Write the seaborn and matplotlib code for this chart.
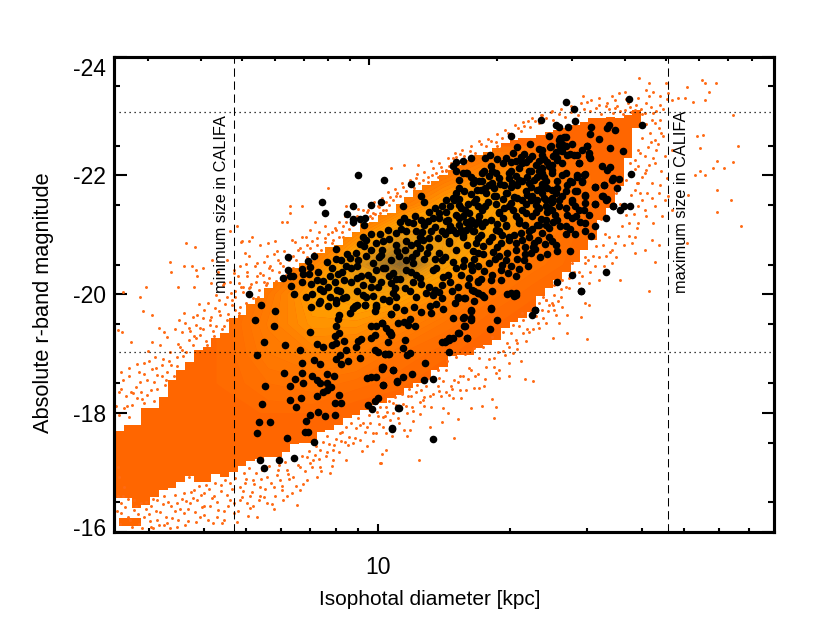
import numpy as np
import pandas as pd
import matplotlib
matplotlib.use('Agg')
import matplotlib.pyplot as plt
import matplotlib.transforms as mtrans
from matplotlib.colors import LinearSegmentedColormap
from matplotlib.ticker import NullFormatter
import seaborn as sns

# Values: log10(diameter / kpc) and r-band magnitude

# Outline of the binned density image, one entry per 0.02 dex column from log D = 0.40
image_top = [-17.70, -17.80, -17.80, -18.09, -18.09, -18.27, -18.56, -18.73, -18.86, -19.06,
             -19.11, -19.27, -19.35, -19.60, -19.65, -19.84, -19.94, -20.11, -20.21, -20.31,
             -20.44, -20.53, -20.58, -20.70, -20.80, -20.83, -20.97, -21.05, -21.20, -21.22,
             -21.34, -21.37, -21.51, -21.64, -21.76, -21.84, -21.91, -22.01, -22.09, -22.18,
             -22.26, -22.35, -22.40, -22.46, -22.55, -22.60, -22.63, -22.63, -22.68, -22.73,
             -22.77, -22.80, -22.85, -22.90, -22.97, -22.97, -22.99, -22.97, -23.02, -23.10]
image_bottom = [-16.57, -16.57, -16.40, -16.45, -16.59, -16.71, -16.74, -16.84, -16.94, -16.84,
                -16.84, -16.98, -16.93, -17.01, -17.11, -17.20, -17.23, -17.26, -17.26, -17.35,
                -17.48, -17.50, -17.50, -17.68, -17.72, -17.80, -17.92, -17.97, -18.05, -18.14,
                -18.17, -18.26, -18.31, -18.42, -18.51, -18.59, -18.73, -18.78, -18.96, -18.98,
                -18.98, -19.10, -19.15, -19.23, -19.43, -19.54, -19.60, -19.70, -19.97, -20.11,
                -20.24, -20.38, -20.55, -20.75, -20.92, -21.25, -21.45, -21.82, -22.30, -22.80]

# Coarse density of the image (0 = plain orange, 1 = brown peak)
density_log = [0.55, 0.65, 0.75, 0.85, 0.95, 1.05, 1.15, 1.25, 1.35, 1.45, 1.55]
density_mag = [-18.0, -18.5, -19.0, -19.5, -20.0, -20.5, -21.0, -21.5, -22.0, -22.5]
density = [[0, 0, .05, .05, 0, 0, 0, 0, 0, 0, 0],
           [0, .05, .12, .15, .1, .05, 0, 0, 0, 0, 0],
           [0, .05, .2, .28, .25, .12, .05, 0, 0, 0, 0],
           [0, .05, .25, .42, .42, .3, .15, .05, 0, 0, 0],
           [0, .02, .2, .5, .6, .55, .35, .15, .05, 0, 0],
           [0, 0, .05, .3, .7, 1.0, .6, .35, .15, .05, 0],
           [0, 0, 0, .05, .35, .7, .65, .5, .25, .08, 0],
           [0, 0, 0, 0, .05, .25, .5, .55, .4, .12, 0],
           [0, 0, 0, 0, 0, .05, .2, .4, .35, .12, 0],
           [0, 0, 0, 0, 0, 0, .05, .1, .12, .05, 0]]

# Small orange dots: the galaxies outside the image
dots_right_log = [1.596, 1.617, 1.611, 1.628, 1.643, 1.656, 1.738, 1.746, 1.770, 1.755, 1.704, 1.700, 1.719, 1.746, 1.810,
                  1.727, 1.742, 1.734, 1.821, 1.774, 1.810, 1.790, 1.765, 1.723, 1.734, 1.746, 1.772, 1.806, 1.772, 1.827,
                  1.708, 1.704, 1.617, 1.640, 1.624, 1.632, 1.609, 1.587, 1.579, 1.553, 1.534, 1.515, 1.503, 1.473, 1.443,
                  1.594, 1.609, 1.632, 1.613, 1.594, 1.624, 1.587, 1.594, 1.609, 1.632, 1.602, 1.632, 1.640, 1.624, 1.643,
                  1.670, 1.685, 1.662, 1.670, 1.655, 1.643, 1.655, 1.670, 1.647, 1.628, 1.541, 1.526, 1.534, 1.519, 1.496,
                  1.466, 1.481, 1.420, 1.428, 1.382, 1.397, 1.420, 1.371, 1.503, 1.534, 1.549, 1.564, 1.477, 1.468, 1.397,
                  1.375, 1.341, 1.325, 1.280, 1.272, 1.231, 1.170, 1.155, 1.148, 1.163, 1.519, 1.541, 1.564, 1.587, 1.609,
                  1.632, 1.594, 1.609, 1.575, 1.587, 1.602, 1.572, 1.556, 1.594, 1.587]
dots_right_mag = [-23.64, -23.55, -23.44, -23.41, -23.33, -23.55, -23.61, -23.55, -23.56, -23.41, -23.49, -23.30, -23.24, -23.27, -23.02,
                  -22.67, -22.68, -22.46, -22.50, -22.25, -22.22, -22.12, -22.12, -22.01, -22.08, -22.01, -21.76, -21.58, -21.38, -21.15,
                  -21.67, -20.86, -20.06, -20.83, -20.92, -20.55, -20.75, -20.69, -20.86, -20.24, -20.52, -20.47, -20.24, -20.52, -20.52,
                  -21.48, -21.42, -21.48, -21.70, -21.87, -21.87, -22.26, -22.15, -22.04, -22.21, -22.63, -22.60, -22.80, -22.94, -22.94,
                  -23.27, -23.30, -23.38, -22.43, -22.32, -21.84, -21.59, -21.42, -21.31, -21.20, -20.86, -20.97, -20.75, -20.64, -20.47,
                  -20.30, -20.19, -20.24, -20.13, -19.91, -19.85, -19.79, -20.07, -23.19, -23.33, -23.38, -23.41, -23.24, -23.33, -23.08,
                  -23.02, -22.91, -22.74, -22.46, -22.49, -22.32, -22.29, -22.07, -21.95, -22.15, -23.16, -23.13, -23.10, -23.10, -23.05,
                  -22.88, -22.43, -22.32, -22.21, -21.76, -21.59, -21.20, -21.14, -21.20, -20.97]

dots_lower_log = [1.401, 1.417, 1.383, 1.367, 1.398, 1.375, 1.360, 1.405, 1.383, 1.413, 1.432, 1.473, 1.482, 1.464, 1.432,
                  1.477, 1.398, 1.367, 1.330, 1.322, 1.303, 1.330, 1.314, 1.295, 1.345, 1.284, 1.307, 1.265, 1.299, 1.326,
                  1.231, 1.246, 1.265, 1.277, 1.212, 1.193, 1.174, 1.155, 1.140, 1.167, 1.186, 1.220, 1.231, 1.241, 1.277,
                  1.298, 1.336, 1.354, 1.201, 1.155, 1.136, 1.110, 1.099, 1.087, 1.076, 1.102, 1.118, 1.144, 1.171, 1.190,
                  1.261, 1.270, 1.237, 1.213, 1.148, 1.159, 1.183, 1.146, 1.264, 1.118, 1.174, 1.065, 1.080, 1.065, 1.042,
                  1.019, 1.027, 1.046, 1.012, 1.019, 1.059, 1.072, 1.010, 1.006, 1.093]
dots_lower_mag = [-19.99, -19.96, -19.91, -19.85, -19.82, -19.74, -19.63, -19.65, -19.51, -19.51, -19.65, -19.85, -19.82, -19.61, -19.34,
                  -19.25, -19.26, -19.43, -19.57, -19.46, -19.34, -19.34, -19.23, -19.18, -19.37, -19.04, -19.01, -18.92, -18.84, -18.88,
                  -18.92, -18.78, -18.78, -18.73, -18.73, -18.62, -18.56, -18.73, -18.59, -18.45, -18.39, -18.42, -18.42, -18.45, -18.59,
                  -18.63, -18.57, -18.54, -18.39, -18.36, -18.45, -18.45, -18.39, -18.36, -18.28, -18.22, -18.28, -18.28, -18.25, -18.26,
                  -18.24, -18.11, -18.12, -18.08, -18.08, -18.01, -17.90, -17.85, -17.91, -17.76, -17.58, -17.61, -17.86, -18.00, -18.14,
                  -18.11, -17.89, -17.91, -17.77, -17.66, -17.72, -17.72, -17.31, -17.16, -17.21]

dots_faint_log = [.406, .410, .421, .406, .413, .429, .444, .466, .482, .497, .512, .527, .542, .557, .569,
                  .580, .588, .603, .618, .633, .648, .671, .686, .694, .705, .716, .731, .746, .762, .777,
                  .792, .807, .822, .837, .852, .868, .883, .898, .913, .928, .943, .958, .974, .989, 1.011,
                  1.034, 1.019, 1.005, .928, .890, .860, .815, .784, .747, .731, .701, .686, .663, .595, .557,
                  .519, .497, .542, .644, .625, .709, .765, .822, .716, .603, .572, .482, .459, .444, .413,
                  .898, .837, .868, .792, .924, .974, .958, 1.004, 1.034, .996]
dots_faint_mag = [-17.10, -16.93, -16.76, -16.60, -16.32, -16.26, -16.37, -16.26, -16.43, -16.54, -16.60, -16.43, -16.48, -16.65, -16.93,
                  -16.71, -16.54, -16.65, -16.43, -16.26, -16.20, -16.32, -16.76, -16.99, -17.07, -16.88, -16.76, -16.93, -16.76, -16.88,
                  -17.04, -16.93, -17.10, -17.27, -17.21, -17.38, -17.61, -17.38, -17.66, -17.77, -17.49, -17.55, -17.44, -17.66, -17.94,
                  -18.00, -17.38, -17.16, -17.21, -16.99, -16.93, -16.46, -16.54, -16.48, -16.60, -16.48, -16.54, -16.54, -16.26, -16.32,
                  -16.15, -16.20, -16.09, -16.15, -16.60, -16.60, -16.60, -16.71, -16.43, -16.43, -16.48, -16.09, -16.48, -16.54, -16.48,
                  -17.21, -16.88, -17.10, -16.60, -17.52, -17.77, -17.80, -18.11, -18.17, -17.66]

dots_upper_log = [.406, .417, .436, .463, .485, .485, .500, .512, .546, .557, .588, .603, .618, .629, .640,
                  .648, .656, .466, .478, .493, .508, .519, .527, .542, .553, .569, .580, .595, .610, .625,
                  .413, .432, .455, .474, .497, .482, .451, .436, .421, .440, .410, .432, .459, .466, .489,
                  .516, .418, .471, .458, .562, .583, .525, .558, .528, .543, .575, .584, .600, .588, .622,
                  .634, .656, .662, .678, .687, .706, .696, .671, .702, .649, .619, .581, .687, .664, .689,
                  .712, .731, .750, .765, .769, .799, .826, .886, .799, .780, .792, .856, .845, .826, .803,
                  .746, .724, .705, .686, .671, .701, .724, .754, .777, .807, .818, .837, .860, .879, .905,
                  .920, .928, .966, .989, 1.000, 1.030, 1.060, 1.091, 1.121, 1.087, 1.113, 1.132, 1.147, 1.057, 1.042,
                  1.026, 1.019, 1.004, .981, .920, .898, .682, .674, .708, .739, .746, .727, .686, .667]
dots_upper_mag = [-19.40, -19.37, -19.20, -19.71, -19.65, -19.20, -19.43, -19.37, -19.57, -19.68, -19.65, -19.74, -19.48, -19.77, -19.65,
                  -19.46, -19.57, -18.84, -18.87, -18.76, -18.81, -18.70, -18.81, -18.95, -19.06, -19.23, -19.29, -19.32, -19.15, -19.29,
                  -18.70, -18.76, -18.70, -18.56, -18.64, -18.39, -18.25, -18.36, -18.08, -18.14, -17.97, -17.94, -18.36, -18.17, -18.20,
                  -18.56, -20.04, -20.13, -19.96, -20.86, -20.79, -20.55, -20.48, -20.37, -20.13, -20.48, -20.41, -20.44, -20.30, -20.58,
                  -20.38, -20.58, -21.06, -21.14, -20.88, -20.89, -20.69, -20.41, -20.38, -20.19, -20.19, -20.13, -20.13, -20.02, -20.89,
                  -20.97, -20.83, -20.86, -20.89, -20.72, -21.48, -21.48, -21.79, -21.37, -21.22, -21.22, -21.22, -21.08, -20.97, -20.92,
                  -20.64, -20.52, -20.64, -20.47, -20.36, -20.30, -20.30, -20.47, -20.52, -20.64, -20.75, -20.83, -20.94, -20.94, -21.08,
                  -21.14, -21.48, -21.42, -21.37, -21.48, -22.12, -22.18, -22.17, -22.25, -21.95, -21.98, -22.04, -22.07, -21.81, -21.65,
                  -21.50, -21.42, -21.37, -21.31, -20.97, -20.92, -20.19, -19.96, -20.13, -20.21, -20.19, -19.96, -19.79, -19.82]

# Dense fringe hugging the upper and lower edges of the image
fringe_top_log = [.413, .428, .447, .462, .474, .489, .497, .507, .515, .523, .534, .541, .548, .556, .563,
                  .571, .578, .586, .593, .601, .608, .616, .623, .631, .638, .645, .652, .659, .668, .675,
                  .683, .691, .698, .706, .714, .722, .729, .737, .744, .752, .759, .768, .775, .783, .791,
                  .798, .806, .814, .822, .829, .838, .846, .853, .862, .871, .878, .887, .894, .902, .911,
                  .919, .927, .935, .944, .952, .961, .969, .977, .986, .994, 1.003, 1.011, 1.018, 1.027, 1.034,
                  1.044, 1.051, 1.063, 1.071, 1.082, 1.094, 1.102, 1.115, 1.123, 1.136, 1.143, 1.154, 1.166, 1.178, 1.188,
                  1.197, 1.209, 1.222, 1.236, 1.247, 1.258, 1.269, 1.283, 1.296, 1.308, 1.319, 1.334, 1.347, 1.359, 1.368,
                  1.383, 1.398, 1.412, 1.427, 1.441, 1.456, 1.469, 1.484, 1.497, 1.508, 1.523, 1.535, 1.546, 1.558, 1.569,
                  1.578, 1.588, 1.599, 1.612, 1.622, 1.635, 1.644]
fringe_top_mag = [-18.41, -18.12, -18.44, -18.23, -18.31, -18.52, -18.41, -18.63, -18.47, -18.88, -18.62, -18.79, -19.11, -18.96, -19.03,
                  -19.38, -19.14, -19.26, -19.44, -19.41, -19.22, -19.56, -19.39, -19.47, -19.71, -19.42, -19.83, -19.67, -19.91, -19.73,
                  -19.69, -20.03, -19.86, -20.11, -19.94, -20.21, -20.07, -20.32, -20.16, -20.28, -20.41, -20.23, -20.37, -20.48, -20.33,
                  -20.58, -20.44, -20.57, -20.49, -20.71, -20.62, -20.78, -20.69, -20.83, -20.74, -20.88, -21.02, -20.86, -21.11, -20.96,
                  -21.04, -21.22, -21.09, -21.17, -21.31, -21.18, -21.26, -21.42, -21.29, -21.35, -21.47, -21.41, -21.55, -21.63, -21.58,
                  -21.71, -21.66, -21.74, -21.83, -21.79, -21.88, -21.93, -21.89, -22.01, -21.97, -22.14, -22.09, -22.21, -22.31, -22.36,
                  -22.33, -22.41, -22.38, -22.52, -22.49, -22.58, -22.56, -22.63, -22.71, -22.68, -22.79, -22.83, -22.81, -22.92, -22.88,
                  -22.96, -22.94, -23.03, -22.98, -23.06, -23.02, -23.12, -23.08, -23.14, -23.03, -23.21, -23.05, -23.17, -23.04, -23.22,
                  -23.07, -23.19, -23.12, -23.21, -23.15, -23.08, -23.19]

fringe_bottom_log = [.418, .435, .448, .456, .471, .479, .488, .503, .511, .522, .531, .538, .549, .561, .566,
                     .574, .583, .592, .599, .607, .612, .621, .628, .636, .643, .651, .658, .666, .674, .681,
                     .689, .697, .704, .712, .721, .728, .736, .743, .752, .758, .769, .774, .782, .789, .797,
                     .806, .813, .826, .833, .842, .849, .858, .866, .874, .881, .889, .895, .904, .911, .919,
                     .932, .939, .947, .955, .963, .971, .979, .988, .997, 1.003, 1.016, 1.024, 1.031, 1.039, 1.048,
                     1.055, 1.063, 1.071, 1.079, 1.088, 1.096, 1.106, 1.114, 1.126, 1.137, 1.149, 1.158, 1.169, 1.178, 1.187,
                     1.199, 1.208, 1.219, 1.228, 1.239, 1.252, 1.261, 1.273, 1.286, 1.298, 1.309, 1.318, 1.328, 1.339, 1.352,
                     1.364, 1.377, 1.388, 1.402, 1.411, 1.424, 1.436, 1.447, 1.459, 1.469, 1.478, 1.489, 1.498, 1.509, 1.518,
                     1.531, 1.543, 1.552, 1.565, 1.578, 1.585, 1.598, 1.611, 1.622, 1.633, 1.645]
fringe_bottom_mag = [-16.61, -16.21, -16.44, -16.13, -16.38, -16.18, -16.56, -16.33, -16.11, -16.51, -16.24, -16.62, -16.39, -16.52, -16.18,
                     -16.68, -16.34, -16.77, -16.42, -16.79, -16.21, -16.58, -16.83, -16.37, -16.69, -16.87, -16.44, -16.72, -16.91, -16.36,
                     -16.59, -16.83, -16.27, -16.67, -16.99, -16.53, -17.04, -16.72, -17.11, -16.47, -16.96, -17.12, -16.71, -17.17, -16.89,
                     -17.21, -16.77, -17.28, -17.03, -17.37, -17.09, -17.44, -17.22, -17.51, -17.28, -17.48, -17.11, -17.56, -17.34, -17.69,
                     -17.46, -17.83, -17.58, -17.91, -17.36, -17.68, -17.97, -17.53, -18.02, -17.81, -17.96, -18.21, -17.62, -18.27, -17.84,
                     -18.33, -18.12, -18.41, -18.04, -18.47, -18.19, -18.12, -18.59, -18.33, -18.72, -18.54, -18.87, -18.41, -18.94, -18.63,
                     -18.99, -18.76, -19.09, -18.66, -19.12, -18.91, -19.28, -19.02, -19.37, -19.12, -19.48, -19.18, -19.68, -19.41, -19.78,
                     -19.52, -19.95, -19.72, -20.16, -19.88, -20.42, -20.11, -20.69, -20.37, -20.86, -20.58, -21.05, -20.81, -21.27, -21.02,
                     -21.46, -21.71, -21.51, -21.93, -21.67, -22.11, -22.37, -22.09, -22.56, -22.43, -22.72]

cloud_low_log = [.405, .412, .423, .431, .439, .452, .461, .470, .477, .486, .494, .501, .509, .516, .525,
                 .536, .544, .552, .559, .567, .577, .585, .596, .604, .615, .624, .632, .641, .649, .656,
                 .663, .672, .679, .692, .700, .708, .718, .725, .733, .741, .755, .763, .772, .780, .794,
                 .803, .817, .830, .845, .856, .870, .884, .900, .916, .935, .950, .966, .982, 1.000, 1.020,
                 1.040, 1.058]
cloud_low_mag = [-16.35, -16.14, -16.42, -16.55, -16.09, -16.31, -16.06, -16.51, -16.30, -16.07, -16.36, -16.12, -16.47, -16.26, -16.07,
                 -16.36, -16.21, -16.55, -16.12, -16.38, -16.58, -16.16, -16.63, -16.28, -16.72, -16.15, -16.51, -16.79, -16.35, -16.62,
                 -16.82, -16.48, -16.16, -16.69, -16.90, -16.41, -16.81, -16.25, -16.90, -16.59, -16.82, -16.39, -17.04, -16.78, -16.97,
                 -16.66, -17.13, -16.81, -17.16, -17.30, -17.03, -17.35, -17.47, -17.53, -17.60, -17.75, -17.83, -17.84, -17.95, -18.02,
                 -18.08, -18.15]

cloud_high_log = [.402, .409, .418, .425, .433, .442, .451, .458, .467, .476, .484, .492, .502, .510, .518,
                  .526, .536, .544, .552, .560, .568, .577, .585, .592, .602, .612, .620, .630, .637, .646,
                  .655, .662, .673, .680, .693, .700, .711, .720, .730, .740, .752, .762, .773, .785, .795,
                  .810, .822, .835, .850, .865, .880, .895, .912, .925, .940, .955, .975, .992, 1.008, 1.022,
                  1.038, 1.055, 1.072, 1.090, 1.105, 1.125, 1.140, 1.160, 1.175, 1.192, 1.212, 1.230, 1.250, 1.272, 1.290,
                  1.312, 1.330, 1.352, 1.372, 1.395, 1.418, 1.440, 1.462, 1.486, 1.505, 1.527, 1.540, 1.552, 1.565, 1.575,
                  1.592, 1.603, 1.618, 1.628, 1.650, 1.660]
cloud_high_mag = [-18.12, -18.35, -18.55, -18.28, -18.62, -18.34, -18.82, -18.52, -18.66, -19.05, -18.74, -18.95, -19.15, -18.91, -19.28,
                  -19.02, -19.41, -19.16, -19.36, -19.51, -19.44, -19.61, -19.48, -19.83, -19.60, -19.85, -19.61, -19.99, -19.90, -20.15,
                  -19.96, -20.21, -20.05, -20.31, -20.12, -20.51, -20.18, -20.47, -20.35, -20.55, -20.44, -20.68, -20.58, -20.72, -20.63,
                  -20.88, -20.77, -20.96, -20.89, -21.05, -21.15, -21.05, -21.21, -21.31, -21.27, -21.44, -21.38, -21.55, -21.62, -21.72,
                  -21.77, -21.88, -21.93, -22.02, -22.05, -22.12, -22.21, -22.29, -22.37, -22.43, -22.49, -22.57, -22.62, -22.70, -22.76,
                  -22.84, -22.90, -22.97, -23.01, -23.07, -23.11, -23.16, -23.22, -23.26, -23.30, -23.12, -23.26, -23.08, -23.28, -23.15,
                  -23.31, -23.04, -23.33, -23.05, -23.12, -23.28]

cloud_side_log = [1.612, 1.621, 1.638, 1.650, 1.615, 1.628, 1.645, 1.660, 1.618, 1.603, 1.590, 1.625, 1.640, 1.662, 1.598,
                  1.612, 1.583, 1.566, 1.590, 1.573, 1.560, 1.548, 1.542, 1.528, 1.512, 1.505, 1.490, 1.484, 1.471, 1.458,
                  1.448, 1.435, 1.418, 1.402, 1.389, 1.376, 1.353, 1.338, 1.318, 1.290, 1.268, 1.243, 1.222, 1.205, 1.183,
                  1.162, 1.138, 1.122, 1.105, 1.095, 1.078, 1.068]
cloud_side_mag = [-22.86, -22.71, -22.52, -22.66, -22.48, -22.29, -22.08, -21.96, -22.18, -21.98, -21.88, -21.62, -21.70, -21.66, -21.71,
                  -21.31, -21.35, -21.33, -21.11, -20.98, -20.83, -20.98, -20.62, -20.71, -20.83, -20.62, -20.65, -20.38, -20.62, -20.19,
                  -20.38, -20.27, -20.08, -19.74, -19.82, -19.60, -19.41, -19.21, -19.08, -18.98, -18.67, -18.58, -18.62, -18.57, -18.52,
                  -18.30, -18.37, -18.11, -18.27, -17.98, -18.11, -18.28]

# Black points: the CALIFA mother sample
faint_log = [.734, .766, .720, .762, .739, .787, .845, .861, .875, .822, .723, .826, .855, .868, .786,
             .826, .811, .828, .743, .799, .849, .860, .868, .883, .899, .883, .893, .883, .875, .860,
             .799, .824, .736, .814, .912, .902, .915, .864, .845, .880, .901, .835, .728, .753, .725,
             .834, .841, .793, .855, .732, .775, .809, .740, 1.033, .977, .987, .993, 1.000, 1.046, .847,
             .866, .887, .905, .912, .909, .905, .902, .911, .923, .905, .894, .913, .927, .905, .915,
             .932, .959, .949, .955, .962, .983, .983, .996, .994, 1.009, 1.018, 1.025, 1.030, .994, 1.000,
             1.015, 1.024, 1.011, 1.008, 1.035, 1.044, 1.012, .974, .985, .996, 1.030, .994, .996, .970, .951,
             .943, .936, 1.024]
faint_mag = [-19.82, -19.71, -19.57, -19.47, -19.19, -19.15, -19.37, -19.17, -19.12, -19.06, -18.98, -18.84, -18.90, -18.83, -18.67,
             -18.67, -18.57, -18.50, -18.46, -18.46, -18.63, -18.56, -18.50, -18.66, -18.62, -18.51, -18.44, -18.39, -18.35, -18.28,
             -18.22, -18.25, -18.16, -18.11, -18.31, -18.17, -18.17, -18.02, -17.97, -17.95, -17.97, -17.87, -17.85, -17.85, -17.67,
             -17.68, -17.68, -17.58, -17.52, -17.21, -17.21, -17.24, -17.07, -17.75, -18.14, -18.07, -18.21, -18.25, -18.09, -19.78,
             -19.86, -19.80, -19.85, -19.65, -19.58, -19.47, -19.30, -19.35, -19.21, -19.18, -19.15, -18.98, -19.06, -18.91, -18.82,
             -18.88, -18.92, -19.12, -19.21, -19.25, -19.26, -19.46, -19.46, -19.32, -19.51, -19.43, -19.37, -19.32, -19.06, -19.02,
             -18.99, -18.99, -18.78, -18.74, -18.72, -18.53, -18.48, -18.59, -18.60, -18.60, -19.67, -19.71, -19.82, -19.82, -19.82,
             -19.77, -19.68, -19.89]

middle_log = [.954, 1.013, 1.076, .873, .880, .942, .929, .985, 1.007, 1.058, .942, .943, .958, .971, .969,
              1.213, 1.193, 1.178, 1.172, 1.179, 1.194, 1.204, 1.212, 1.219, 1.185, 1.185, 1.179, 1.172, 1.155, 1.098,
              1.106, 1.117, 1.129, 1.147, 1.155, 1.164, 1.185, 1.199, 1.219, 1.227, 1.060, 1.068, 1.079, 1.097, 1.106,
              1.125, 1.140, 1.159, 1.193, 1.212, 1.227, 1.163, 1.185, 1.178, 1.200, 1.219, 1.042, 1.053, 1.064, 1.087,
              1.095, 1.121, 1.117, 1.147, 1.163, 1.193, 1.204, 1.227, .966, .973, .958, .996, 1.011, 1.026, 1.042,
              1.064, 1.076, 1.102, 1.136, .904, 1.010, 1.007, .973, .936, .954, .989, 1.049, 1.064, 1.079, 1.087,
              1.117, 1.140, 1.147, 1.178, 1.197, 1.216, 1.227, .795, .854, .840, .883, .826, .846, .795, .784,
              .799, .807, .830, .843, .864, .894, .917, .909, .928, .939, .951, .996, 1.017, 1.034, 1.026,
              1.064, 1.076, 1.087, 1.132, 1.125, 1.159, 1.178, 1.193, 1.212, 1.227, .802, .809, .836, .875, .890,
              .952, .939, .966, .985, 1.000, 1.030, 1.038, 1.034, 1.042, 1.026, 1.079, 1.098, 1.117, 1.129, 1.125,
              1.147, 1.182, 1.147, 1.182, 1.197, 1.227, 1.214, 1.227, .706, .907, .913, .928, .920, .875, .890,
              .905, .867, .966, .970, .947, .996, 1.212, 1.193, 1.212, 1.197, 1.182, 1.163, 1.155, 1.147, 1.202]
middle_mag = [-22.01, -21.93, -21.85, -21.55, -21.37, -21.48, -21.35, -21.50, -21.56, -21.49, -21.27, -21.21, -21.27, -21.29, -21.16,
              -22.29, -22.25, -22.23, -22.16, -22.07, -22.04, -22.04, -21.98, -21.93, -21.93, -21.79, -21.70, -21.62, -21.58, -21.65,
              -21.56, -21.39, -21.45, -21.48, -21.39, -21.48, -21.50, -21.42, -21.56, -21.48, -21.28, -21.22, -21.20, -21.25, -21.17,
              -21.28, -21.28, -21.25, -21.31, -21.25, -21.23, -21.08, -21.17, -21.03, -21.08, -21.06, -21.03, -21.10, -21.06, -21.06,
              -20.97, -21.06, -20.94, -21.06, -20.86, -21.00, -20.83, -20.94, -20.97, -20.92, -20.84, -20.86, -20.89, -20.93, -20.83,
              -20.89, -20.83, -20.92, -20.94, -20.76, -20.75, -20.66, -20.65, -20.61, -20.58, -20.52, -20.65, -20.58, -20.52, -20.69,
              -20.80, -20.69, -20.58, -20.75, -20.58, -20.72, -20.69, -20.62, -20.65, -20.56, -20.55, -20.42, -20.46, -20.40, -20.27,
              -20.31, -20.31, -20.34, -20.34, -20.38, -20.44, -20.38, -20.34, -20.47, -20.44, -20.47, -20.40, -20.44, -20.36, -20.30,
              -20.41, -20.38, -20.33, -20.44, -20.41, -20.33, -20.44, -20.47, -20.50, -20.47, -20.14, -20.00, -19.95, -20.23, -20.31,
              -20.28, -20.20, -20.15, -20.12, -20.13, -20.19, -20.10, -20.02, -19.96, -19.91, -20.21, -20.17, -20.13, -20.07, -19.99,
              -20.16, -20.13, -19.93, -19.96, -19.93, -20.22, -20.07, -20.02, -20.00, -20.07, -20.05, -19.96, -19.93, -20.05, -19.96,
              -19.91, -19.88, -19.99, -19.82, -19.80, -19.79, -19.74, -19.60, -19.57, -19.46, -19.35, -19.26, -19.21, -19.19, -19.27]

lower_log = [1.072, 1.086, 1.110, 1.125, 1.118, 1.133, 1.083, 1.121, 1.059, 1.030, 1.074, 1.059, 1.046, 1.068, 1.085,
             1.009, 1.027, 1.030, 1.062, 1.022, 1.057, 1.072, 1.065, 1.015, 1.023, 1.108, 1.010, 1.034, 1.077, 1.057,
             1.044, 1.012, 1.106, 1.125, 1.048, 1.032, 1.125, 1.163, 1.152, 1.161, 1.171, 1.184, 1.202, 1.256, 1.271,
             1.198, 1.213, 1.196, 1.171, 1.211, 1.258, 1.220, 1.183, 1.199, 1.242, 1.227, 1.261, 1.295, 1.311, 1.314,
             1.358, 1.351, 1.462]
lower_mag = [-20.05, -19.96, -20.02, -20.01, -19.80, -19.83, -19.78, -19.69, -19.74, -19.67, -19.59, -19.53, -19.51, -19.48, -19.46,
             -19.52, -19.37, -19.33, -19.23, -19.19, -19.09, -19.01, -18.97, -18.99, -18.99, -18.85, -18.78, -18.73, -18.65, -18.61,
             -18.54, -18.48, -18.55, -18.57, -18.08, -17.74, -17.56, -19.03, -19.19, -19.23, -19.26, -19.34, -19.26, -19.42, -19.56,
             -19.46, -19.60, -19.61, -19.60, -19.72, -19.75, -19.89, -19.93, -19.93, -19.95, -20.02, -20.05, -20.01, -19.97, -20.02,
             -19.74, -19.65, -20.06]

bright_log = [1.428, 1.447, 1.572, 1.371, 1.450, 1.405, 1.413, 1.434, 1.485, 1.526, 1.522, 1.540, 1.603, 1.484, 1.503,
              1.303, 1.390, 1.416, 1.428, 1.346, 1.318, 1.367, 1.394, 1.413, 1.428, 1.476, 1.465, 1.528, 1.559, 1.307,
              1.333, 1.352, 1.375, 1.405, 1.439, 1.454, 1.481, 1.303, 1.337, 1.360, 1.386, 1.409, 1.458, 1.244, 1.284,
              1.257, 1.511, 1.530, 1.522, 1.322, 1.344, 1.367, 1.397, 1.428, 1.473, 1.454, 1.576, 1.238, 1.269, 1.299,
              1.549, 1.534, 1.329, 1.356, 1.382, 1.409, 1.439, 1.465, 1.238, 1.261, 1.288, 1.496, 1.516, 1.545, 1.337,
              1.363, 1.397, 1.428, 1.450, 1.246, 1.291, 1.265, 1.511, 1.519, 1.473, 1.318, 1.348, 1.382, 1.413, 1.443,
              1.496, 1.537, 1.562, 1.574, 1.552, 1.367, 1.397, 1.428, 1.458, 1.481, 1.521, 1.299, 1.329, 1.276, 1.352,
              1.382, 1.409, 1.443, 1.496, 1.473, 1.428, 1.450, 1.428, 1.472, 1.485, 1.322, 1.291, 1.363, 1.390, 1.344,
              1.375, 1.310, 1.276, 1.329, 1.299, 1.356, 1.405, 1.409, 1.386, 1.437, 1.272, 1.314, 1.348, 1.295, 1.333,
              1.276, 1.254, 1.341, 1.303, 1.280, 1.519, 1.443, 1.314, 1.409, 1.257, 1.280, 1.227, 1.463, 1.303, 1.314,
              1.219, 1.238, 1.357, 1.257]
bright_mag = [-23.23, -23.11, -23.29, -22.94, -22.91, -22.85, -22.82, -22.81, -22.81, -22.85, -22.79, -22.76, -22.85, -22.70, -22.61,
              -22.66, -22.67, -22.63, -22.64, -22.53, -22.48, -22.44, -22.49, -22.51, -22.49, -22.50, -22.43, -22.46, -22.41, -22.37,
              -22.36, -22.32, -22.35, -22.39, -22.36, -22.35, -22.32, -22.23, -22.23, -22.18, -22.23, -22.26, -22.21, -22.29, -22.20,
              -22.15, -22.15, -22.14, -22.09, -22.12, -22.08, -22.07, -22.09, -22.04, -22.03, -22.00, -22.03, -22.04, -22.04, -22.04,
              -21.94, -21.93, -21.90, -21.93, -21.90, -21.90, -21.90, -21.90, -21.90, -21.87, -21.84, -21.81, -21.84, -21.79, -21.73,
              -21.76, -21.76, -21.73, -21.73, -21.70, -21.70, -21.65, -21.65, -21.59, -21.65, -21.62, -21.59, -21.59, -21.59, -21.56,
              -21.51, -21.49, -21.49, -21.49, -21.42, -21.45, -21.42, -21.45, -21.42, -21.34, -21.29, -21.48, -21.42, -21.36, -21.31,
              -21.25, -21.25, -21.28, -21.14, -21.20, -21.14, -21.01, -21.02, -21.06, -20.98, -21.20, -21.17, -21.17, -21.11, -21.06,
              -21.03, -21.00, -21.06, -20.92, -20.92, -20.86, -20.83, -20.73, -20.67, -20.72, -20.80, -20.75, -20.69, -20.69, -20.58,
              -20.64, -20.52, -20.47, -20.47, -20.41, -20.37, -20.33, -20.30, -20.20, -20.24, -20.24, -20.21, -20.06, -20.02, -19.99,
              -20.05, -19.99, -19.74, -19.77]

dense_log = [1.201, 1.216, 1.231, 1.242, 1.261, 1.254, 1.265, 1.235, 1.197, 1.174, 1.269, 1.250, 1.303, 1.295, 1.303,
             1.329, 1.348, 1.322, 1.344, 1.375, 1.390, 1.352, 1.375, 1.329, 1.303, 1.276, 1.189, 1.208, 1.231, 1.257,
             1.238, 1.208, 1.185, 1.155, 1.170, 1.193, 1.216, 1.269, 1.291, 1.299, 1.280, 1.254, 1.223, 1.163, 1.322,
             1.337, 1.360, 1.382, 1.397, 1.367, 1.382, 1.344, 1.390, 1.353, 1.325]
dense_mag = [-22.04, -21.87, -21.90, -22.07, -22.07, -21.84, -21.79, -21.76, -21.73, -21.59, -21.65, -21.56, -21.81, -21.70, -22.07,
             -22.21, -22.07, -21.93, -21.87, -22.04, -22.15, -21.65, -21.70, -21.59, -21.53, -21.39, -21.45, -21.37, -21.31, -21.25,
             -21.14, -21.14, -21.28, -21.23, -21.08, -20.97, -21.06, -21.08, -21.14, -20.97, -20.86, -20.89, -20.86, -20.89, -21.25,
             -21.37, -21.39, -21.48, -21.56, -21.17, -21.17, -20.97, -20.97, -20.80, -21.03]

crowd_bright_log = [1.424, 1.412, 1.443, 1.420, 1.416, 1.393, 1.375, 1.477, 1.481, 1.484, 1.431, 1.409, 1.446, 1.458, 1.420,
                    1.397, 1.375, 1.469, 1.454, 1.443, 1.420, 1.397, 1.378, 1.537, 1.516, 1.496, 1.465, 1.431, 1.409, 1.386,
                    1.371, 1.473, 1.454, 1.443, 1.420, 1.397, 1.378, 1.512, 1.522, 1.494, 1.473, 1.450, 1.412, 1.390, 1.537]
crowd_bright_mag = [-22.64, -22.60, -22.53, -22.52, -22.43, -22.47, -22.43, -22.49, -22.38, -22.30, -22.35, -22.29, -22.35, -22.21, -22.21,
                    -22.18, -22.12, -22.01, -21.98, -21.89, -22.01, -22.04, -21.98, -21.95, -21.84, -21.80, -21.89, -21.84, -21.79, -21.79,
                    -21.79, -21.67, -21.73, -21.59, -21.65, -21.62, -21.62, -21.66, -21.61, -21.51, -21.53, -21.48, -21.48, -21.45, -21.49]

crowd_core_log = [1.255, 1.272, 1.292, 1.315, 1.326, 1.345, 1.368, 1.378, 1.398, 1.420, 1.253, 1.276, 1.298, 1.315, 1.339,
                  1.362, 1.245, 1.278, 1.305, 1.318, 1.348, 1.373, 1.285, 1.311, 1.339, 1.362, 1.405, 1.244, 1.268, 1.288,
                  1.308, 1.338, 1.361, 1.386, 1.404, 1.432, 1.452, 1.469, 1.224, 1.238, 1.205, 1.212, 1.185, 1.226, 1.245,
                  1.272, 1.286, 1.315, 1.336, 1.352, 1.372, 1.398, 1.414, 1.437, 1.460, 1.222, 1.200, 1.178, 1.165, 1.152,
                  1.190, 1.235, 1.261, 1.283, 1.315, 1.335, 1.366, 1.380, 1.396, 1.240, 1.262, 1.239, 1.218, 1.267, 1.293,
                  1.316, 1.336, 1.358, 1.370, 1.283, 1.321, 1.297, 1.242, 1.261, 1.215, 1.236, 1.208, 1.190, 1.165, 1.172,
                  1.153, 1.130, 1.112, 1.095, 1.078, 1.062, 1.043, 1.030, 1.012, 1.003, .985, .968, .950, .930, .915,
                  .905, .922, .903, .885, .862, .848, .826, .868, .850, .952, .988, 1.012, 1.050, 1.062, 1.095,
                  1.148, 1.140, 1.168, 1.205, 1.175, 1.148, 1.098, 1.040, .972, 1.100, 1.130, 1.140, 1.115, 1.085, 1.050,
                  1.022, 1.005, .985, 1.090, 1.105, 1.040, 1.006, .978, .962, .987]
crowd_core_mag = [-22.34, -22.27, -22.30, -22.24, -22.31, -22.27, -22.24, -22.27, -22.33, -22.41, -21.99, -21.96, -21.95, -21.99, -21.97,
                  -21.98, -21.79, -21.86, -21.88, -21.83, -21.81, -21.85, -21.61, -21.64, -21.67, -21.58, -21.70, -21.48, -21.52, -21.45,
                  -21.42, -21.51, -21.50, -21.38, -21.33, -21.33, -21.31, -21.42, -21.60, -21.42, -21.52, -21.69, -21.60, -21.75, -21.21,
                  -21.19, -21.28, -21.31, -21.17, -21.09, -21.27, -21.21, -21.14, -21.09, -21.22, -21.18, -21.22, -21.34, -21.15, -21.02,
                  -21.08, -20.99, -20.97, -21.00, -20.86, -20.80, -20.92, -20.84, -20.89, -20.82, -20.71, -20.67, -20.59, -20.60, -20.58,
                  -20.60, -20.68, -20.76, -20.62, -20.50, -20.42, -20.36, -20.39, -20.33, -20.40, -20.25, -20.28, -20.33, -20.21, -20.55,
                  -20.63, -20.60, -20.69, -20.78, -20.62, -20.74, -20.72, -20.58, -20.44, -20.63, -20.74, -20.81, -20.70, -20.68, -20.57,
                  -20.60, -20.24, -20.20, -20.12, -20.24, -20.18, -20.21, -20.08, -20.00, -20.06, -19.97, -19.92, -20.25, -20.11, -20.28,
                  -20.29, -20.03, -20.05, -20.15, -19.85, -19.75, -19.70, -19.79, -19.95, -21.04, -21.13, -21.37, -21.24, -21.31, -21.21,
                  -21.08, -21.02, -21.01, -20.86, -20.60, -20.25, -20.20, -20.33, -20.30, -20.25]

# Limits marked on the chart
size_limits = [4.69, 45.8]
mag_limits = [-23.07, -19.03]

sns.set_theme(style='ticks')
plt.rcParams['font.family'] = ['Liberation Sans', 'DejaVu Sans']

fig = plt.figure(figsize=(8.3, 6.42), dpi=100)
ax = fig.add_axes([114 / 830, 1 - 532 / 642, 660 / 830, 475.5 / 642])
ax.set_xscale('log')

# Density image
edges = 10 ** np.linspace(0.40, 1.60, len(image_top) + 1)
outline = ax.stairs(image_top, edges, baseline=image_bottom, fill=True, color='#FF6600', lw=0, zorder=1)
ax.stairs([-16.24], [10 ** .41, 10 ** .46], baseline=-16.10, fill=True, color='#FF6600', lw=0, zorder=1)
heat = LinearSegmentedColormap.from_list('heat', [(0, '#FF6600'), (.3, '#FF8200'), (.5, '#FFA000'),
                                                  (.7, '#E89A10'), (.85, '#B48222'), (1, '#8A6A30')])
glow = ax.contourf(10 ** np.array(density_log), density_mag, density, levels=np.linspace(.04, 1, 25),
                   cmap=heat, vmin=0, vmax=1, zorder=1.5, antialiased=True)
glow.set_clip_path(outline)

dots = pd.DataFrame({'log_d': dots_right_log + dots_lower_log + dots_faint_log + dots_upper_log + fringe_top_log + fringe_bottom_log
                     + cloud_low_log + cloud_high_log + cloud_side_log,
                     'mag': dots_right_mag + dots_lower_mag + dots_faint_mag + dots_upper_mag + fringe_top_mag + fringe_bottom_mag
                     + cloud_low_mag + cloud_high_mag + cloud_side_mag})
dots['d'] = 10 ** dots['log_d']
sns.scatterplot(data=dots, x='d', y='mag', color='#FF6A14', s=4.5, linewidth=0, ax=ax, zorder=1.2)

sample = pd.DataFrame({'log_d': faint_log + middle_log + lower_log + bright_log + dense_log + crowd_bright_log + crowd_core_log,
                       'mag': faint_mag + middle_mag + lower_mag + bright_mag + dense_mag + crowd_bright_mag + crowd_core_mag})
sample['d'] = 10 ** sample['log_d']
sns.scatterplot(data=sample, x='d', y='mag', color='black', s=30, linewidth=0, ax=ax, zorder=4)

for limit in size_limits:
    ax.axvline(limit, color='black', lw=0.75, dashes=(8, 4.5), zorder=3)
for limit in mag_limits:
    ax.axhline(limit, color='black', lw=0.9, ls=(0, (1, 3)), zorder=3)

ax.text(4.39, -20.02, 'minimum size in CALIFA', rotation=90, ha='center', va='bottom', fontsize=11.7, color='black', zorder=5)
ax.text(49.3, -20.02, 'maximum size in CALIFA', rotation=90, ha='center', va='bottom', fontsize=11.7, color='black', zorder=5)

ax.set_xlim(2.5, 80)
ax.set_ylim(-16, -24)

ax.set_xticks([10], ['10'])
ax.set_xticks([3, 4, 5, 6, 7, 8, 9, 20, 30, 40, 50, 60, 70], minor=True)
ax.xaxis.set_minor_formatter(NullFormatter())
ax.set_yticks([-24, -22, -20, -18, -16], ['-24', '-22', '-20', '-18', '-16'])
ax.set_yticks(np.arange(-23.5, -16, 1), minor=True)
ax.tick_params(axis='x', which='major', direction='in', length=6, width=1.5, labelsize=16.5, pad=17, color='black', labelcolor='black')
ax.tick_params(axis='x', which='minor', direction='in', length=3, width=1.5, color='black')
ax.tick_params(axis='y', which='major', direction='in', length=9, width=1.5, labelsize=16.5, pad=6, right=True, color='black', labelcolor='black')
ax.tick_params(axis='y', which='minor', direction='in', length=4.5, width=1.5, right=True, color='black')

# the end labels sit inside the axis range
ticklabels = ax.get_yticklabels()
ticklabels[0].set_transform(ticklabels[0].get_transform() + mtrans.ScaledTranslation(0, -11 / 100, fig.dpi_scale_trans))
ticklabels[-1].set_transform(ticklabels[-1].get_transform() + mtrans.ScaledTranslation(0, 5 / 100, fig.dpi_scale_trans))

ax.set_xlabel('Isophotal diameter [kpc]', fontsize=15, color='black')
ax.set_ylabel('Absolute r-band magnitude', fontsize=15.7, color='black')
ax.xaxis.set_label_coords(0.479, -0.122)
ax.yaxis.set_label_coords(-0.0905, 0.482)

# top axis runs on a slightly different range in the original
top = ax.twiny()
top.set_xscale('log')
top.set_xlim(2.5, 90)
top.set_xticks([10], [''])
top.set_xticks([3, 4, 5, 6, 7, 8, 9, 20, 30, 40, 50, 60, 70, 80], minor=True)
top.xaxis.set_minor_formatter(NullFormatter())
top.tick_params(axis='x', which='major', direction='in', length=6, width=1.5, color='black')
top.tick_params(axis='x', which='minor', direction='in', length=3, width=1.5, color='black')
top.grid(False)

for a in (ax, top):
    for spine in a.spines.values():
        spine.set_linewidth(2.2)
        spine.set_color('black')

fig.savefig('out.png', dpi=100)
